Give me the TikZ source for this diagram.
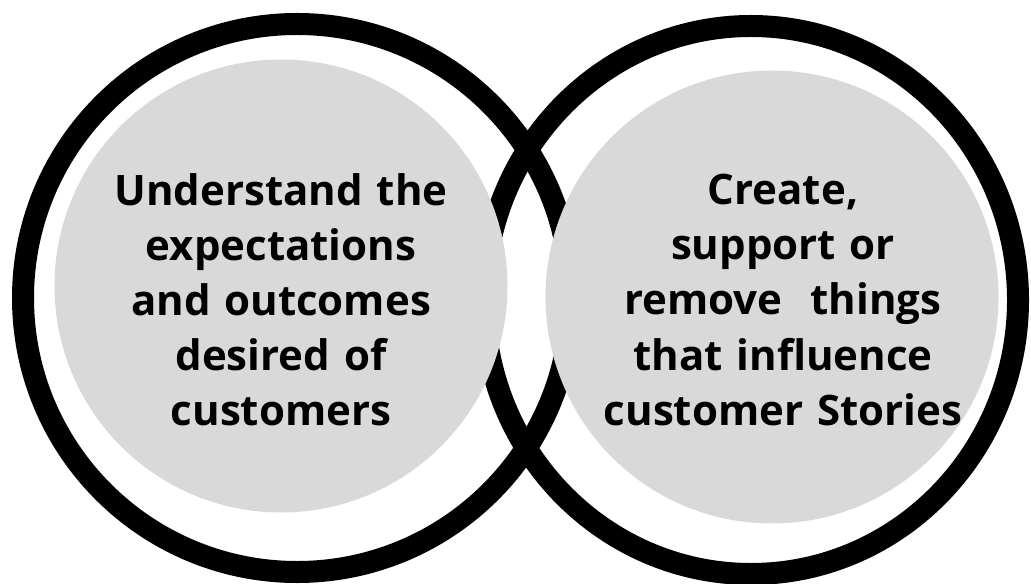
\documentclass[tikz,border=0pt]{standalone}
\usepackage{fontspec}
\setmainfont{Open Sans}
\usepackage{tikz}
\usetikzlibrary{positioning,calc}
\usepackage{xcolor}
\definecolor{discgrey}{HTML}{D9D9D9}
\tikzset{
        ring/.style = {draw=black, line width=0.44cm},
        disc/.style = {circle, fill=discgrey, inner sep=0pt, minimum size=9.06cm},
        blurb/.style = {text width=8cm, align=center, font=\bfseries\fontsize{23.9}{31.3}\selectfont}}

\begin{document}
\begin{tikzpicture}
            \useasboundingbox (0,0) rectangle (20.62,11.66);
            \coordinate (lc) at (5.94,5.70);
            \coordinate (rc) at (15.02,5.66);

            % outer rings first, the grey discs sit on top of them
            \draw [ring] (lc) circle (5.48);
            \draw [ring] (rc) ellipse (5.34 and 5.48);

            \node [disc] (ldisc) at (5.62,5.94) {};
            \node [disc] (rdisc) at (15.44,5.72) {};

            \node [blurb] (ltext) at ($(ldisc)+(0,-0.28)$) {Understand the\\ expectations\\ and outcomes\\ desired of\\ customers};
            \node [blurb] (rtext) at ($(rdisc)+(0.22,-0.06)$) {Create,\\ support or\\ remove~ things\\ that influence\\ customer Stories};
    \end{tikzpicture}
\end{document}
